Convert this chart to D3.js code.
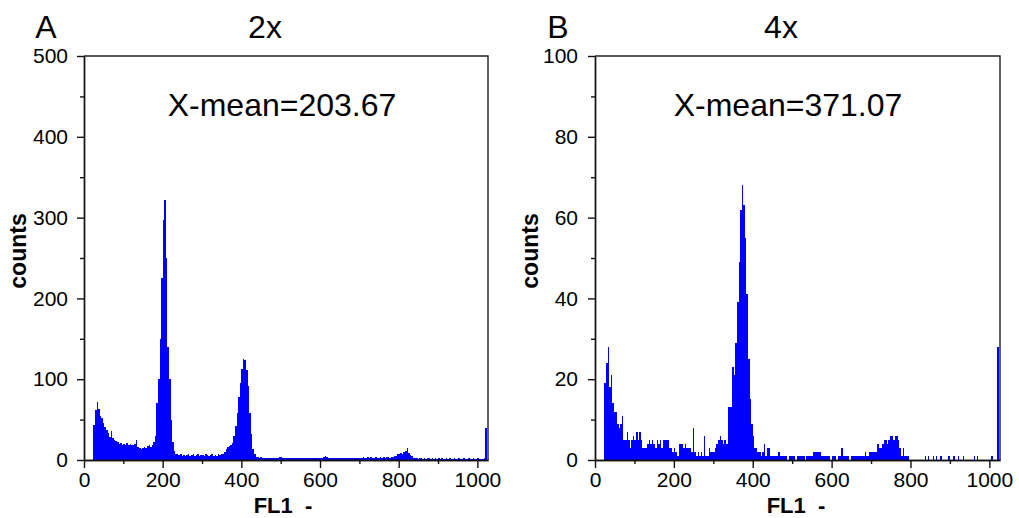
<!DOCTYPE html>
<html><head><meta charset="utf-8">
<script src="https://cdn.jsdelivr.net/npm/d3@7"></script>
<style>
html,body{margin:0;padding:0;background:#fff;}
svg{display:block;font-family:"Liberation Sans",Arial,sans-serif;}
</style></head><body>
<svg id="c" width="1019" height="518"></svg>
<script>
// histogram bins: channel start = binStart + i*binWidth
const binStart = 24, binWidth = 4;
const countsA = [
 43,62,72,63,55,52,46,41,37,33,
 28,36,27,25,24,22,20,21,19,20,
 18,21,19,20,18,19,20,25,16,15,
 14,15,16,15,17,18,16,18,22,30,
 70,100,150,225,297,322,250,140,100,50,
 22,11,8,7,6,7,5,6,5,6,
 7,5,6,8,5,6,7,5,6,6,
 5,7,6,5,6,7,5,6,5,8,
 6,7,8,10,14,16,17,18,21,30,
 42,58,78,95,113,125,124,112,92,58,
 32,14,7,4,4,3,4,3,3,3,
 2,3,3,2,3,3,2,3,4,4,
 3,2,3,2,2,3,2,3,2,3,
 2,2,3,2,3,2,2,3,2,3,
 2,3,2,3,2,3,4,5,4,3,
 3,2,3,2,3,2,2,3,2,3,
 2,3,2,3,2,3,3,2,3,3,
 3,4,3,3,4,3,4,3,3,4,
 3,3,4,3,4,3,4,4,3,4,
 4,5,5,7,8,9,8,10,11,15,
 9,6,5,3,2,2,1,2,2,1,
 2,1,2,2,1,2,1,2,1,2,
 1,2,1,1,2,1,2,1,1,2,
 1,1,2,1,1,2,1,1,2,1,
 1,2,1,1,2,1,1,1,2,40
];
const countsB = [
 19,24,28,18,21,14,12,12,9,8,
 9,11,5,5,7,5,3,5,6,5,
 7,5,7,5,3,3,3,4,5,4,
 5,4,3,5,4,5,3,5,5,5,
 5,3,3,2,3,2,1,4,4,4,
 3,4,3,3,3,2,8,2,1,2,
 1,2,1,6,1,1,3,2,2,2,
 3,4,5,6,5,4,5,4,13,13,
 13,23,21,29,39,49,62,68,63,55,
 41,25,15,9,6,3,3,2,2,1,
 2,4,1,3,3,1,1,1,1,1,
 2,1,1,1,1,1,0,1,1,1,
 1,0,1,1,1,1,1,0,1,1,
 1,1,2,2,2,2,2,1,1,1,
 1,1,1,0,1,1,1,0,1,1,
 3,1,1,1,1,0,1,1,1,1,
 1,1,1,1,1,2,1,1,2,2,
 2,2,2,4,3,3,4,5,5,4,
 5,6,6,5,6,6,5,3,1,3,
 1,1,1,0,0,0,0,0,0,0,
 0,0,0,1,0,1,0,0,1,0,
 1,0,0,1,0,0,0,0,1,0,
 0,1,0,0,1,0,0,1,0,0,
 0,0,0,0,1,0,1,0,0,0,
 0,0,0,0,0,1,0,0,0,28
];
const yTicksA = [0,100,200,300,400,500];
const yMinorA = [50,150,250,350,450];
const yTicksB = [0,20,40,60,80,100];
const yMinorB = [10,30,50,70,90];
const xTicks = [0,200,400,600,800,1000];
const xMinor = [100,300,500,700,900];
const panelLetters = ["A","B"];
const panelTitles = ["2x","4x"];
const meanLabels = ["X-mean=203.67","X-mean=371.07"];
const xLabel = "FL1  -";
const yLabel = "counts";

const svg = d3.select("#c");
svg.append("rect").attr("width",1019).attr("height",518).attr("fill","#fff");

const panels = [
  {counts:countsA, yt:yTicksA, ym:yMinorA, ymax:500, left:84, right:488, pad:9,
   letterX:46, titleX:265, meanX:282, ylabX:26, xlabX:283},
  {counts:countsB, yt:yTicksB, ym:yMinorB, ymax:100, left:595, right:1000, pad:10,
   letterX:558, titleX:781, meanX:788, ylabX:538, xlabX:796}
];
const plotTop = 56, plotBottom = 460;

panels.forEach((p,k)=>{
  const x = d3.scaleLinear().domain([0,1027]).range([p.left,p.right]);
  const y = d3.scaleLinear().domain([0,p.ymax]).range([plotBottom,plotTop]);
  const g = svg.append("g");

  const bins = p.counts.map((c,i)=>({x0: binStart + i*binWidth, c}));
  g.append("g").selectAll("rect").data(bins).join("rect")
    .attr("x", d=>x(d.x0))
    .attr("width", d=>x(d.x0+binWidth)-x(d.x0))
    .attr("y", d=>y(d.c))
    .attr("height", d=>y(0)-y(d.c))
    .attr("fill","#0000ff")
    .attr("shape-rendering","crispEdges");

  // frame top & right
  g.append("path")
    .attr("d", `M${x(0)},${y(p.ymax)}H${x(1027)}V${y(0)}`)
    .attr("fill","none").attr("stroke","#222").attr("stroke-width",1.4);

  const styleAxis = sel => {
    sel.selectAll("path.domain").attr("stroke","#111").attr("stroke-width",1.4);
    sel.selectAll(".tick line").attr("stroke","#111").attr("stroke-width",1.4);
    sel.selectAll(".tick text").attr("fill","#000").style("font-size","21px")
       .style("font-family",'"Liberation Sans",Arial,sans-serif');
  };

  g.append("g").attr("transform",`translate(${x(0)},0)`)
    .call(d3.axisLeft(y).tickValues(p.ym).tickSize(4).tickSizeOuter(0).tickFormat(""))
    .call(styleAxis);
  g.append("g").attr("transform",`translate(${x(0)},0)`)
    .call(d3.axisLeft(y).tickValues(p.yt).tickSize(7).tickSizeOuter(0).tickPadding(p.pad).tickFormat(d3.format("d")))
    .call(styleAxis);
  g.append("g").attr("transform",`translate(0,${y(0)})`)
    .call(d3.axisBottom(x).tickValues(xMinor).tickSize(4).tickSizeOuter(0).tickFormat(""))
    .call(styleAxis);
  g.append("g").attr("transform",`translate(0,${y(0)})`)
    .call(d3.axisBottom(x).tickValues(xTicks).tickSize(8).tickSizeOuter(0).tickPadding(4).tickFormat(d3.format("d")))
    .call(styleAxis);

  g.append("text").attr("x",p.letterX).attr("y",38).attr("text-anchor","middle")
    .style("font-size","32px").text(panelLetters[k]);
  g.append("text").attr("x",p.titleX).attr("y",38).attr("text-anchor","middle")
    .style("font-size","32px").text(panelTitles[k]);
  g.append("text").attr("x",p.meanX).attr("y",116).attr("text-anchor","middle")
    .style("font-size","32px").text(meanLabels[k]);
  g.append("text").attr("transform",`translate(${p.ylabX},251) rotate(-90)`)
    .attr("text-anchor","middle").style("font-size","23px").style("font-weight","bold")
    .text(yLabel);
  g.append("text").attr("x",p.xlabX).attr("y",513).attr("text-anchor","middle")
    .style("font-size","22px").style("font-weight","bold").style("white-space","pre")
    .attr("xml:space","preserve").text(xLabel);
});
</script>
</body></html>
